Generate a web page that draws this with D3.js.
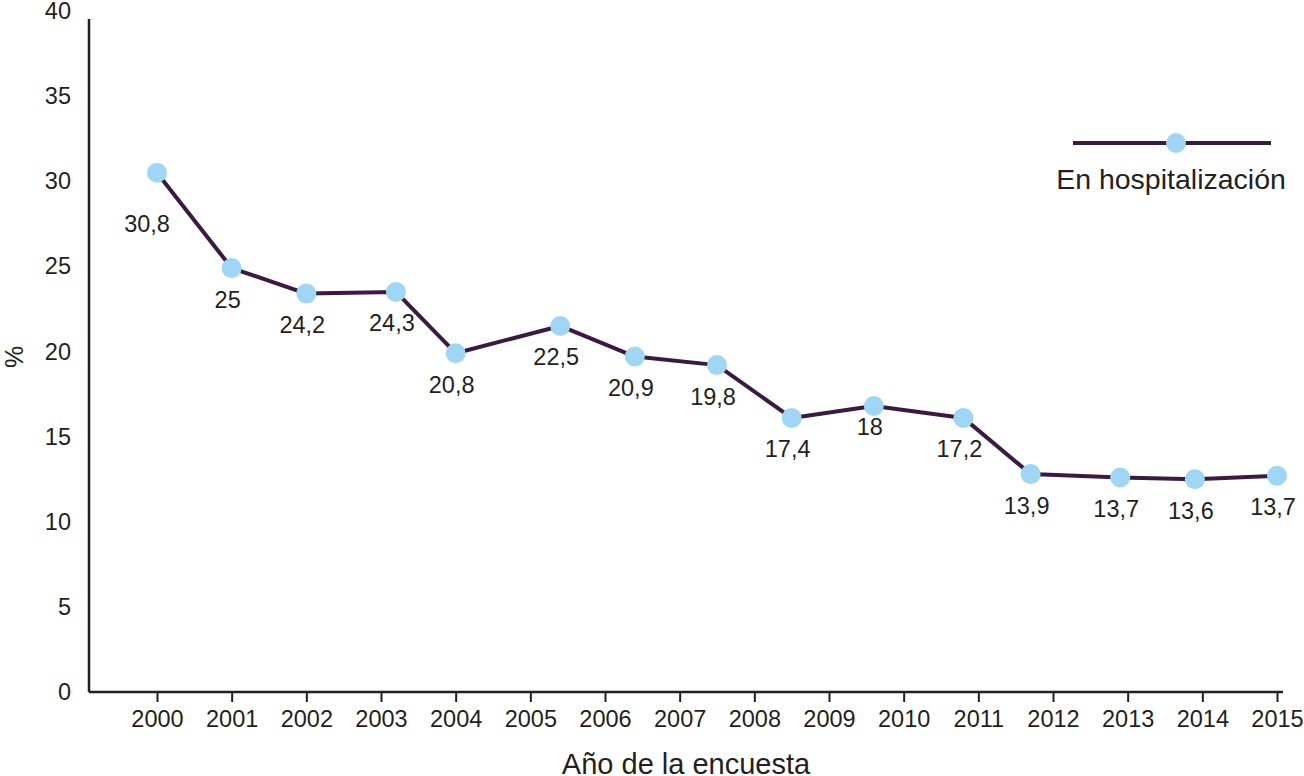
<!DOCTYPE html>
<html>
<head>
<meta charset="utf-8">
<script src="https://cdn.jsdelivr.net/npm/d3@7"></script>
<style>
  html, body { margin: 0; padding: 0; background: #fff; }
  svg { display: block; font-family: "Liberation Sans", Arial, Helvetica, sans-serif; }
</style>
</head>
<body>
<svg id="chart" width="1304" height="776"></svg>
<script>
// Tick labels
const years = [2000, 2001, 2002, 2003, 2004, 2005, 2006, 2007,
               2008, 2009, 2010, 2011, 2012, 2013, 2014, 2015];
const yTicks = [0, 5, 10, 15, 20, 25, 30, 35, 40];

// Series (positions, in axis units)
const pointYear  = [2000.0, 2001.0, 2002.0, 2003.2, 2004.0, 2005.4, 2006.4, 2007.5,
                    2008.5, 2009.6, 2010.8, 2011.7, 2012.9, 2013.9, 2015.0];
const pointValue = [30.5, 24.9, 23.4, 23.5, 19.9, 21.5, 19.7, 19.2,
                    16.1, 16.8, 16.1, 12.8, 12.6, 12.5, 12.7];
const valueLabels = ['30,8', '25', '24,2', '24,3', '20,8', '22,5', '20,9', '19,8',
                     '17,4', '18', '17,2', '13,9', '13,7', '13,6', '13,7'];

const seriesName = 'En hospitalización';
const xTitle = 'Año de la encuesta';
const yTitle = '%';

const INK = '#231f20';
const LINE = '#3b1a42';
const DOT = '#9fd6f3';

const svg = d3.select('#chart');

const x = d3.scaleLinear().domain([2000, 2015]).range([157, 1277]);
const y = d3.scaleLinear().domain([0, 40]).range([692, 11]);

// X axis
const xAxis = svg.append('g')
    .attr('transform', `translate(0, ${y(0)})`)
    .call(d3.axisBottom(x)
        .tickValues(years)
        .tickFormat(d3.format('d'))
        .tickSize(10)
        .tickSizeOuter(0)
        .tickPadding(8));
xAxis.select('.domain').remove();
xAxis.selectAll('.tick line').attr('stroke', INK).attr('stroke-width', 2);
xAxis.selectAll('.tick text')
    .attr('fill', INK)
    .attr('font-size', '23.5px')
    .attr('font-family', null);
xAxis.append('line')
    .attr('x1', 89).attr('x2', 1283)
    .attr('stroke', INK).attr('stroke-width', 2.5);

// Y axis
const yAxis = svg.append('g')
    .attr('transform', 'translate(89, 0)')
    .call(d3.axisLeft(y)
        .tickValues(yTicks)
        .tickSize(0)
        .tickSizeOuter(0)
        .tickPadding(18));
yAxis.select('.domain').remove();
yAxis.selectAll('.tick text')
    .attr('fill', INK)
    .attr('font-size', '23.5px')
    .attr('font-family', null);
yAxis.append('line')
    .attr('y1', y(0)).attr('y2', 19)
    .attr('stroke', INK).attr('stroke-width', 2.5);

// Axis titles
svg.append('text')
    .attr('x', 686)
    .attr('y', 774)
    .attr('text-anchor', 'middle')
    .attr('fill', INK)
    .attr('font-size', '29px')
    .text(xTitle);

svg.append('text')
    .attr('transform', 'translate(23, 357) rotate(-90)')
    .attr('text-anchor', 'middle')
    .attr('fill', INK)
    .attr('font-size', '25px')
    .text(yTitle);

// Line
const line = d3.line()
    .x((d, i) => x(pointYear[i]))
    .y(d => y(d));

svg.append('path')
    .datum(pointValue)
    .attr('fill', 'none')
    .attr('stroke', LINE)
    .attr('stroke-width', 4)
    .attr('stroke-linejoin', 'round')
    .attr('d', line);

// Markers
svg.selectAll('circle.dot')
    .data(pointValue)
    .enter()
    .append('circle')
    .attr('class', 'dot')
    .attr('cx', (d, i) => x(pointYear[i]))
    .attr('cy', d => y(d))
    .attr('r', 10)
    .attr('fill', DOT);

// Value labels, mostly under the marker
const labelDx = i => (i === 0 ? -10 : -4);
const labelDy = i => (i === 0 ? 51 : i === 9 ? 21 : 31);

svg.selectAll('text.val')
    .data(valueLabels)
    .enter()
    .append('text')
    .attr('class', 'val')
    .attr('x', (d, i) => x(pointYear[i]) + labelDx(i))
    .attr('y', (d, i) => y(pointValue[i]) + labelDy(i))
    .attr('dy', '0.36em')
    .attr('text-anchor', 'middle')
    .attr('fill', INK)
    .attr('font-size', '23.5px')
    .text(d => d);

// Legend
const legend = svg.append('g');
legend.append('line')
    .attr('x1', 1073).attr('x2', 1271)
    .attr('y1', 143).attr('y2', 143)
    .attr('stroke', LINE)
    .attr('stroke-width', 4);
legend.append('circle')
    .attr('cx', 1176).attr('cy', 143)
    .attr('r', 10)
    .attr('fill', DOT);
legend.append('text')
    .attr('x', 1171)
    .attr('y', 189)
    .attr('text-anchor', 'middle')
    .attr('fill', INK)
    .attr('font-size', '28.5px')
    .text(seriesName);
</script>
</body>
</html>
